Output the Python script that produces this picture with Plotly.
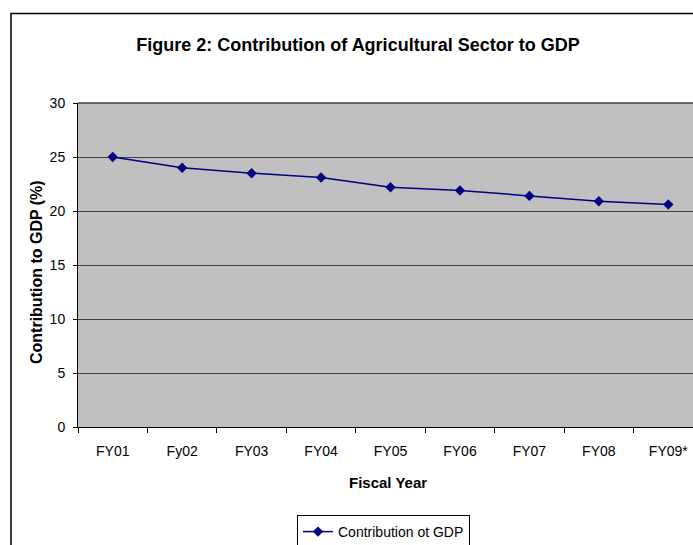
import plotly.graph_objects as go

categories = ["FY01", "Fy02", "FY03", "FY04", "FY05", "FY06", "FY07", "FY08", "FY09*"]
contribution = [25.0, 24.0, 23.5, 23.1, 22.2, 21.9, 21.4, 20.9, 20.6]
series_name = "Contribution ot GDP"

W, H = 693, 545
ML, MT, MB = 78, 103, 118
PW = W - ML
PH = H - MT - MB

FONT = "Liberation Sans, Arial, sans-serif"

fig = go.Figure()
fig.add_trace(go.Scatter(
    x=categories, y=contribution, mode="lines+markers", name=series_name,
    line=dict(color="#000080", width=1.5),
    marker=dict(symbol="diamond", size=8, color="#000080"),
    showlegend=True,
))

def px_x(p):
    return (p - ML) / PW

def px_y(p):
    return (H - MB - p) / PH

fig.update_layout(
    width=W, height=H,
    margin=dict(l=ML, r=0, t=MT, b=MB, pad=0, autoexpand=False),
    paper_bgcolor="white", plot_bgcolor="#C0C0C0",
    font=dict(family=FONT, size=14, color="black"),
    title=dict(text="<b>Figure 2: Contribution of Agricultural Sector to GDP</b>",
               x=358 / W, xanchor="center", xref="container",
               y=1 - 45 / H, yanchor="middle", yref="container",
               font=dict(family=FONT, size=18, color="black")),
    xaxis=dict(type="category", range=[-0.5, -0.5 + 9 * 615 / 625],
               showgrid=False, showline=True, linecolor="black", linewidth=1,
               ticks="outside", ticklen=5, tickcolor="black", tickson="boundaries",
               ticklabelstandoff=11,
               tickfont=dict(size=14), zeroline=False, fixedrange=True),
    yaxis=dict(range=[0, 30], dtick=5, showgrid=True, gridcolor="#404040", gridwidth=1,
               showline=True, linecolor="black", linewidth=1,
               ticks="outside", ticklen=4, tickcolor="black",
               ticklabelstandoff=5,
               tickfont=dict(size=14), zeroline=False, fixedrange=True),
    legend=dict(x=px_x(297), xanchor="left", y=px_y(515), yanchor="top",
                bordercolor="black", borderwidth=1, bgcolor="white",
                font=dict(size=14), itemwidth=30, tracegroupgap=0),
    showlegend=True,
    annotations=[
        dict(text="<b>Fiscal Year</b>", xref="paper", yref="paper",
             x=px_x(388), y=px_y(483), xanchor="center", yanchor="middle",
             showarrow=False, font=dict(size=15)),
        dict(text="<b>Contribution to GDP (%)</b>", xref="paper", yref="paper",
             x=px_x(36), y=px_y(272), xanchor="center", yanchor="middle",
             textangle=-90, showarrow=False, font=dict(size=16)),
    ],
    shapes=[
        dict(type="rect", xref="paper", yref="paper",
             x0=px_x(11), x1=px_x(W + 20), y0=px_y(H + 20), y1=px_y(13.5),
             line=dict(color="black", width=1.5), fillcolor="rgba(0,0,0,0)", layer="above"),
        dict(type="line", xref="paper", yref="paper", x0=0, x1=1, y0=1, y1=1,
             line=dict(color="#404040", width=1.5)),
    ],
)

fig.write_html("out.html")
